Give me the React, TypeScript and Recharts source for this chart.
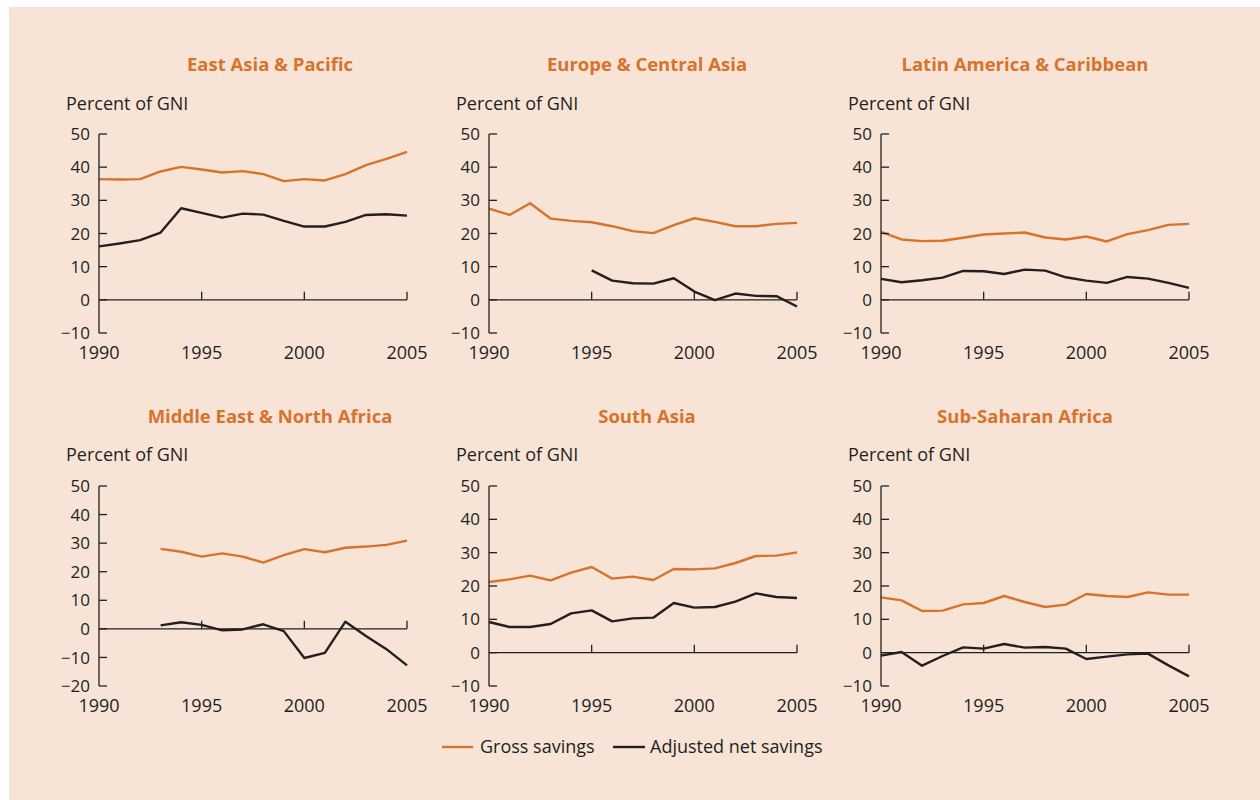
import { LineChart, Line, XAxis, YAxis, ReferenceLine } from "recharts";

const years = [1990, 1991, 1992, 1993, 1994, 1995, 1996, 1997, 1998, 1999, 2000, 2001, 2002, 2003, 2004, 2005];
const xTicks = [1990, 1995, 2000, 2005];
const yTicksA = [-10, 0, 10, 20, 30, 40, 50];
const yTicksB = [-20, -10, 0, 10, 20, 30, 40, 50];

const regions = [
  "East Asia & Pacific",
  "Europe & Central Asia",
  "Latin America & Caribbean",
  "Middle East & North Africa",
  "South Asia",
  "Sub-Saharan Africa",
];

// gross savings, % of GNI
const eapGross = [36.4, 36.3, 36.4, 38.7, 40.1, 39.3, 38.4, 38.8, 37.9, 35.8, 36.4, 36.0, 37.9, 40.6, 42.5, 44.6];
const ecaGross = [27.5, 25.6, 29.1, 24.5, 23.8, 23.4, 22.2, 20.7, 20.1, 22.5, 24.6, 23.5, 22.2, 22.2, 22.9, 23.2];
const lacGross = [20.5, 18.2, 17.7, 17.8, 18.7, 19.7, 20.0, 20.3, 18.8, 18.2, 19.1, 17.6, 19.8, 21.0, 22.6, 22.9];
const menaGross = [null, null, null, 28.0, 27.0, 25.3, 26.4, 25.3, 23.2, 25.8, 27.9, 26.8, 28.4, 28.8, 29.4, 30.9];
const saGross = [21.2, 22.0, 23.1, 21.7, 24.0, 25.7, 22.2, 22.8, 21.8, 25.1, 25.0, 25.3, 26.9, 29.0, 29.1, 30.1];
const ssaGross = [16.6, 15.7, 12.5, 12.6, 14.5, 14.9, 17.0, 15.2, 13.7, 14.4, 17.6, 17.0, 16.7, 18.1, 17.4, 17.4];

// adjusted net savings, % of GNI
const eapAdjusted = [16.1, 17.0, 18.0, 20.3, 27.6, 26.2, 24.8, 26.0, 25.7, 23.8, 22.1, 22.1, 23.5, 25.6, 25.8, 25.4];
const ecaAdjusted = [null, null, null, null, null, 8.9, 5.8, 5.0, 4.9, 6.5, 2.5, -0.1, 1.9, 1.2, 1.1, -2.0];
const lacAdjusted = [6.3, 5.3, 5.9, 6.7, 8.7, 8.6, 7.8, 9.1, 8.8, 6.8, 5.8, 5.1, 6.9, 6.4, 5.1, 3.6];
const menaAdjusted = [null, null, null, 1.2, 2.3, 1.4, -0.5, -0.2, 1.6, -0.8, -10.2, -8.4, 2.5, -2.5, -7.1, -12.8];
const saAdjusted = [9.2, 7.7, 7.7, 8.6, 11.8, 12.7, 9.4, 10.3, 10.5, 14.9, 13.5, 13.7, 15.3, 17.8, 16.7, 16.4];
const ssaAdjusted = [-0.9, 0.2, -3.9, -1.0, 1.6, 1.2, 2.6, 1.5, 1.7, 1.2, -1.9, -1.2, -0.5, -0.3, -3.8, -7.1];

const grossSeries = [eapGross, ecaGross, lacGross, menaGross, saGross, ssaGross];
const adjustedSeries = [eapAdjusted, ecaAdjusted, lacAdjusted, menaAdjusted, saAdjusted, ssaAdjusted];
const yTickSets = [yTicksA, yTicksA, yTicksA, yTicksB, yTicksA, yTicksA];

const ORANGE = "#D7732B";
const INK = "#231F20";
const BG = "#F7E4D7";
const FONT = "'Open Sans', sans-serif";

const plotLefts = [99, 489, 881];
const plotTops = [134, 486];
const plotHeights = [199, 200];
const plotWidth = 308;
const titleCenters = [270, 647, 1025];
const titleBaselines = [71, 423];
const unitBaselines = [110, 461];

function YTick(props: any) {
  const { x, y, payload } = props;
  return (
    <g>
      <line x1={x} y1={y} x2={x + 8} y2={y} stroke={INK} strokeWidth={1.3} />
      <text x={x - 9} y={y} dy="0.36em" textAnchor="end" fill={INK} fontSize={17} fontFamily={FONT}>
        {payload.value < 0 ? "\u2212" + Math.abs(payload.value) : payload.value}
      </text>
    </g>
  );
}

function XTick(props: any) {
  const { x, y, payload } = props;
  return (
    <text x={x} y={y + 26} textAnchor="middle" fill={INK} fontSize={18} fontFamily={FONT}>
      {payload.value}
    </text>
  );
}

function Panel({ idx }: { idx: number }) {
  const col = idx % 3;
  const row = Math.floor(idx / 3);
  const ticks = yTickSets[idx];
  const yMin = ticks[0];
  const yMax = ticks[ticks.length - 1];
  const plotH = plotHeights[row];
  const tickLen = (8 * (yMax - yMin)) / plotH;
  const data = years.map((year, i) => ({
    year,
    gross: grossSeries[idx][i],
    adjusted: adjustedSeries[idx][i],
  }));
  const marginTop = 20;
  const chartH = marginTop + plotH + 40;
  return (
    <div style={{ position: "absolute", left: plotLefts[col] - 49, top: plotTops[row] - marginTop }}>
      <LineChart
        width={49 + plotWidth + 40}
        height={chartH}
        data={data}
        margin={{ top: marginTop, right: 40, bottom: 10, left: 9 }}
        style={{ overflow: "visible" }}
      >
        <XAxis
          type="number"
          dataKey="year"
          domain={[1990, 2005]}
          ticks={xTicks}
          axisLine={false}
          tickLine={false}
          tickSize={0}
          tickMargin={0}
          height={30}
          tick={<XTick />}
          interval={0}
        />
        <YAxis
          type="number"
          domain={[yMin, yMax]}
          ticks={ticks}
          axisLine={{ stroke: INK, strokeWidth: 1.3 }}
          tickLine={false}
          tickSize={0}
          tickMargin={0}
          width={40}
          tick={<YTick />}
          interval={0}
        />
        <ReferenceLine y={0} stroke={INK} strokeWidth={1.3} />
        {xTicks.slice(1).map((t) => (
          <ReferenceLine
            key={t}
            segment={[
              { x: t, y: 0 },
              { x: t, y: tickLen },
            ]}
            stroke={INK}
            strokeWidth={1.3}
          />
        ))}
        <Line
          type="linear"
          dataKey="adjusted"
          stroke={INK}
          strokeWidth={2.4}
          dot={false}
          isAnimationActive={false}
          strokeLinejoin="round"
        />
        <Line
          type="linear"
          dataKey="gross"
          stroke={ORANGE}
          strokeWidth={2.4}
          dot={false}
          isAnimationActive={false}
          strokeLinejoin="round"
        />
      </LineChart>
    </div>
  );
}

export default function App() {
  return (
    <div style={{ position: "absolute", left: 0, top: 0, width: 1260, height: 800, background: "#fff", overflow: "hidden" }}>
      <div style={{ position: "absolute", left: 9, top: 7, width: 1251, height: 793, background: BG }} />
      <svg width={1260} height={800} style={{ position: "absolute", left: 0, top: 0 }}>
        {regions.map((name, i) => {
          const col = i % 3;
          const row = Math.floor(i / 3);
          return (
            <g key={name}>
              <text
                x={titleCenters[col]}
                y={titleBaselines[row]}
                textAnchor="middle"
                fill={ORANGE}
                fontSize={18.5}
                fontWeight={700}
                fontFamily={FONT}
              >
                {name}
              </text>
              <text x={plotLefts[col] - 33} y={unitBaselines[row]} fill={INK} fontSize={18} fontFamily={FONT}>
                Percent of GNI
              </text>
            </g>
          );
        })}
        <line x1={442} y1={747} x2={473} y2={747} stroke={ORANGE} strokeWidth={2.4} />
        <text x={480} y={753} fill={INK} fontSize={18} fontFamily={FONT}>
          Gross savings
        </text>
        <line x1={613} y1={747} x2={645} y2={747} stroke={INK} strokeWidth={2.4} />
        <text x={650} y={753} fill={INK} fontSize={18} fontFamily={FONT}>
          Adjusted net savings
        </text>
      </svg>
      {regions.map((name, i) => (
        <Panel key={name} idx={i} />
      ))}
    </div>
  );
}
